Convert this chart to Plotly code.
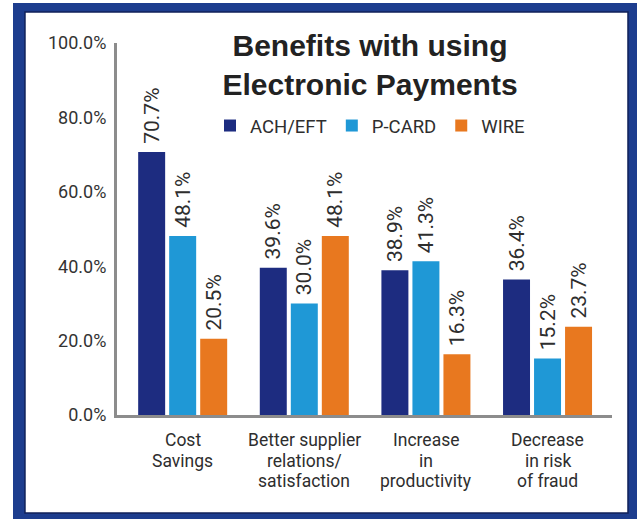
import plotly.graph_objects as go

categories = ["Cost<br>Savings", "Better supplier<br>relations/<br>satisfaction",
              "Increase<br>in<br>productivity", "Decrease<br>in risk<br>of fraud"]
series_names = ["ACH/EFT", "P-CARD", "WIRE"]
ach_eft = [70.7, 39.6, 38.9, 36.4]
p_card = [48.1, 30.0, 41.3, 15.2]
wire = [20.5, 48.1, 16.3, 23.7]
y_ticks = [0, 20, 40, 60, 80, 100]

colors = ["#1d2c80", "#1f98d6", "#e8781f"]
FONT = "Roboto, Liberation Sans, sans-serif"
TXT = "#2e2e2e"

x_idx = list(range(len(categories)))
fig = go.Figure()
for name, vals, col in zip(series_names, [ach_eft, p_card, wire], colors):
    fig.add_trace(go.Bar(
        x=x_idx, y=vals, name=name, marker=dict(color=col, line=dict(width=0)),
        text=[f"{v:.1f}%" for v in vals], texttemplate="\u00a0%{text}",
        textposition="outside", textangle=-90, constraintext="none",
        cliponaxis=False,
        textfont=dict(family=FONT, size=21, color=TXT),
    ))

annotations = []
for i, cat in enumerate(categories):
    for j, line in enumerate(cat.split("<br>")):
        annotations.append(dict(
            x=i, y=0, xref="x", yref="y", text=line, showarrow=False,
            xanchor="center", yanchor="middle", yshift=-25 - 20.5 * j,
            font=dict(family=FONT, size=17.5, color=TXT)))

shapes = [
    dict(type="rect", xref="paper", yref="paper", x0=-0.2101, x1=1.07, y0=-0.30, y1=1.1075,
         fillcolor="#1d3d8e", line=dict(width=0), layer="below"),
    dict(type="rect", xref="paper", yref="paper", x0=-0.1859, x1=1.0323, y0=-0.2634, y1=1.0833,
         fillcolor="#ffffff", line=dict(width=1.5, color="#10215a"), layer="below"),
]

fig.update_layout(
    width=637, height=519,
    margin=dict(l=117, r=25, t=43, b=104),
    paper_bgcolor="white", plot_bgcolor="rgba(0,0,0,0)",
    barmode="group", bargap=0.235, bargroupgap=0.13,
    title=dict(text="<b>Benefits with using<br>Electronic Payments</b>",
               x=370 / 637, xanchor="center", xref="container",
               y=1 - 56 / 519, yanchor="top",
               font=dict(family="Liberation Sans, Arial, sans-serif", size=30, color="#222222")),
    legend=dict(orientation="h", x=(370 - 117) / 495, xanchor="center",
                y=(415 - 126) / 372, yanchor="middle",
                font=dict(family=FONT, size=18.5, color=TXT),
                bgcolor="rgba(0,0,0,0)", itemwidth=30, traceorder="normal"),
    xaxis=dict(range=[-0.54, 3.53], showticklabels=False, ticks="", showgrid=False,
               zeroline=False, showline=True, linecolor="#8c8c8c", linewidth=3),
    yaxis=dict(range=[0, 100], tickvals=y_ticks, ticktext=[f"{v:.1f}%" for v in y_ticks],
               ticks="", ticklabelstandoff=4, showgrid=False, zeroline=False,
               showline=True, linecolor="#8c8c8c", linewidth=3,
               tickfont=dict(family=FONT, size=18, color="#333333")),
    annotations=annotations, shapes=shapes,
    showlegend=True,
)

fig.write_html("out.html")
